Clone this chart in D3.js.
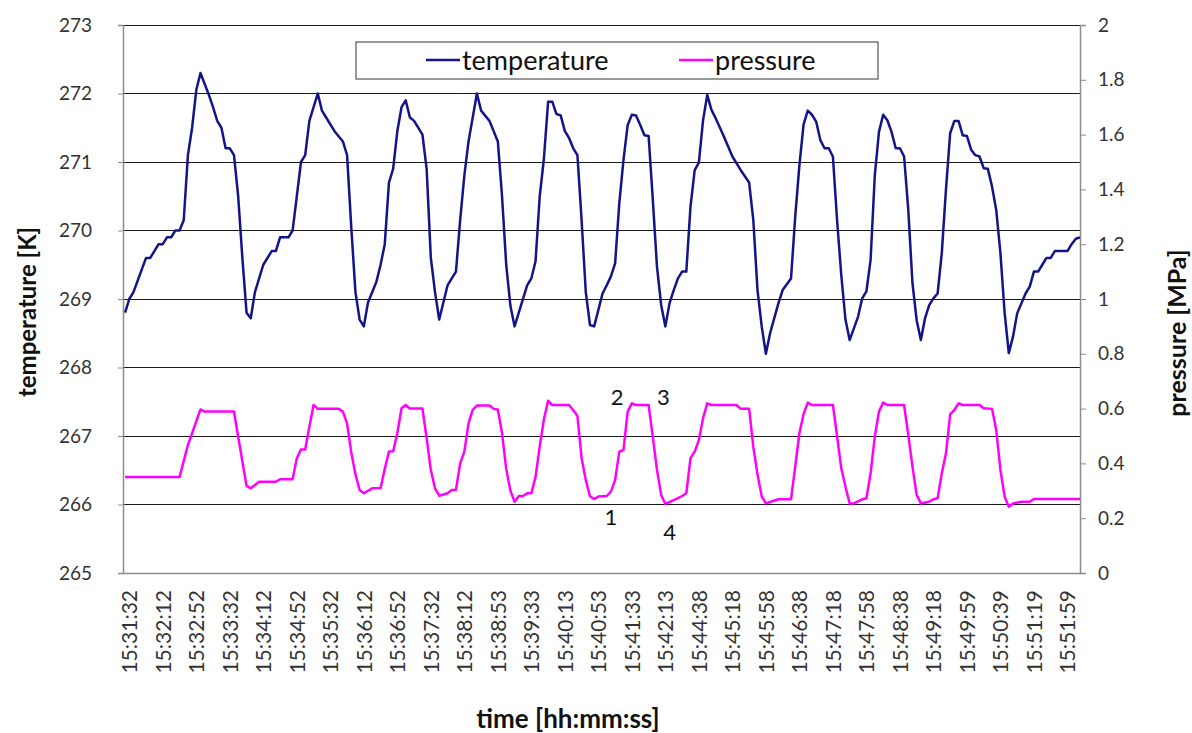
<!DOCTYPE html>
<html><head><meta charset="utf-8">
<script src="https://cdn.jsdelivr.net/npm/d3@7"></script>
<style>
html,body{margin:0;padding:0;background:#fff;}
svg{display:block;font-family:Lato,"Open Sans",sans-serif;}
</style></head>
<body><svg id="chart" width="1192" height="733"></svg>
<script>
// ---- data (sample index, value); samples every ~5 s ----
const tickLabels = ["15:31:32","15:32:12","15:32:52","15:33:32","15:34:12","15:34:52","15:35:32","15:36:12","15:36:52","15:37:32","15:38:12","15:38:53","15:39:33","15:40:13","15:40:53","15:41:33","15:42:13","15:44:38","15:45:18","15:45:58","15:46:38","15:47:18","15:47:58","15:48:38","15:49:18","15:49:59","15:50:39","15:51:19","15:51:59"];
const tempTicks = [265,266,267,268,269,270,271,272,273];
const pressTicks = [0,0.2,0.4,0.6,0.8,1,1.2,1.4,1.6,1.8,2];
const temperature = [[0,268.8],[1,269.0],[2,269.1],[5,269.6],[6,269.6],[8,269.8],[9,269.8],[10,269.9],[11,269.9],[12,270.0],[13,270.0],[14,270.15],[15,271.1],[16,271.5],[17,272.05],[18,272.3],[20,271.98],[21,271.8],[22,271.6],[23,271.5],[24,271.2],[25,271.2],[26,271.1],[27,270.5],[28,269.6],[29,268.8],[30,268.72],[31,269.1],[32,269.3],[33,269.5],[35,269.7],[36,269.7],[37,269.9],[39,269.9],[40,270.0],[42,271.0],[43,271.1],[44,271.6],[46,272.0],[47,271.75],[48,271.65],[50,271.45],[52,271.3],[53,271.1],[54,270.05],[55,269.1],[56,268.7],[57,268.6],[58,268.95],[60,269.25],[61,269.5],[62,269.8],[63,270.7],[64,270.9],[65,271.45],[66,271.8],[67,271.9],[68,271.65],[69,271.6],[71,271.4],[72,270.9],[73,269.6],[74,269.1],[75,268.7],[77,269.2],[78,269.3],[79,269.4],[80,270.15],[81,270.8],[82,271.3],[84,272.0],[85,271.75],[87,271.6],[89,271.3],[90,270.5],[91,269.5],[92,268.9],[93,268.6],[94,268.8],[96,269.2],[97,269.3],[98,269.55],[99,270.5],[100,271.05],[101,271.88],[102,271.88],[103,271.7],[104,271.68],[105,271.45],[106,271.35],[107,271.2],[108,271.1],[109,270.15],[110,269.1],[111,268.62],[112,268.6],[114,269.08],[115,269.2],[116,269.33],[117,269.52],[118,270.4],[119,271.03],[120,271.54],[121,271.69],[122,271.68],[123,271.54],[124,271.39],[125,271.38],[126,270.45],[127,269.47],[128,268.91],[129,268.6],[130,268.94],[131,269.13],[132,269.3],[133,269.4],[134,269.4],[135,270.35],[136,270.88],[137,270.99],[138,271.61],[139,271.98],[140,271.76],[141,271.64],[143,271.37],[145,271.08],[147,270.88],[149,270.7],[150,270.15],[151,269.13],[152,268.6],[153,268.2],[154,268.5],[156,268.94],[157,269.13],[159,269.3],[160,270.2],[161,270.95],[162,271.55],[163,271.75],[164,271.69],[165,271.59],[166,271.32],[167,271.2],[168,271.2],[169,271.08],[170,270.15],[171,269.35],[172,268.7],[173,268.4],[175,268.74],[176,269.01],[177,269.11],[178,269.57],[179,270.8],[180,271.44],[181,271.69],[182,271.61],[183,271.44],[184,271.2],[185,271.2],[186,271.08],[187,270.3],[188,269.23],[189,268.69],[190,268.4],[191,268.72],[192,268.91],[193,269.01],[194,269.08],[195,269.67],[196,270.6],[197,271.42],[198,271.6],[199,271.6],[200,271.39],[201,271.38],[202,271.18],[203,271.1],[204,271.08],[205,270.91],[206,270.9],[207,270.64],[208,270.3],[209,269.67],[210,268.8],[211,268.21],[212,268.45],[213,268.79],[215,269.08],[216,269.18],[217,269.4],[218,269.4],[219,269.5],[220,269.6],[221,269.6],[222,269.7],[225,269.7],[226,269.8],[227,269.88],[228,269.9]];
const pressure = [[0,0.35],[13,0.35],[15,0.467],[16,0.51],[18,0.597],[19,0.589],[26,0.589],[27,0.497],[29,0.318],[30,0.309],[32,0.333],[36,0.333],[37,0.342],[40,0.342],[41,0.419],[42,0.451],[43,0.451],[44,0.534],[45,0.613],[46,0.599],[51,0.599],[52,0.589],[53,0.546],[54,0.44],[55,0.36],[56,0.303],[57,0.291],[59,0.309],[61,0.31],[62,0.38],[63,0.443],[64,0.444],[65,0.51],[66,0.601],[67,0.613],[68,0.6],[71,0.6],[72,0.492],[73,0.376],[74,0.309],[75,0.282],[77,0.291],[78,0.303],[79,0.304],[80,0.4],[81,0.443],[82,0.546],[83,0.595],[84,0.611],[87,0.611],[88,0.599],[89,0.597],[90,0.51],[91,0.38],[92,0.3],[93,0.26],[94,0.281],[95,0.281],[96,0.291],[97,0.291],[98,0.351],[99,0.461],[100,0.56],[101,0.629],[102,0.613],[106,0.613],[107,0.595],[108,0.573],[109,0.419],[110,0.339],[111,0.28],[112,0.27],[113,0.279],[115,0.281],[116,0.297],[117,0.339],[118,0.443],[119,0.449],[120,0.589],[121,0.619],[122,0.613],[125,0.613],[126,0.497],[127,0.376],[128,0.285],[129,0.252],[131,0.266],[132,0.273],[133,0.281],[134,0.291],[135,0.419],[136,0.443],[137,0.485],[138,0.565],[139,0.619],[140,0.613],[146,0.613],[147,0.599],[149,0.599],[150,0.46],[151,0.36],[152,0.28],[153,0.254],[154,0.259],[156,0.269],[159,0.269],[160,0.388],[161,0.51],[162,0.58],[163,0.622],[164,0.613],[169,0.613],[170,0.5],[171,0.382],[172,0.315],[173,0.254],[174,0.254],[176,0.269],[177,0.273],[178,0.364],[179,0.497],[180,0.589],[181,0.622],[182,0.613],[186,0.613],[187,0.504],[188,0.388],[189,0.285],[190,0.254],[192,0.26],[193,0.269],[194,0.273],[195,0.364],[196,0.437],[197,0.579],[198,0.595],[199,0.619],[200,0.613],[204,0.613],[205,0.601],[207,0.599],[208,0.522],[209,0.376],[210,0.279],[211,0.242],[212,0.254],[214,0.26],[216,0.26],[217,0.27],[228,0.27]];
const annotations = [{label:"1", i:116, p:0.205},{label:"2", i:117.5, p:0.645},{label:"3", i:128.5, p:0.645},{label:"4", i:130, p:0.15}];

// ---- layout ----
const L = 123, R = 1080, T = 25, B = 573;
const svg = d3.select("#chart");
const x = d3.scaleLinear().domain([-0.5, 228]).range([L, R]);
const yT = d3.scaleLinear().domain([265, 273]).range([B, T]);
const yP = d3.scaleLinear().domain([0, 2]).range([B, T]);

// gridlines
svg.append("g").selectAll("line").data(tempTicks.slice(1)).join("line")
  .attr("x1", L).attr("x2", R).attr("y1", d => yT(d)).attr("y2", d => yT(d))
  .attr("stroke", "#1a1a1a").attr("stroke-width", 1).attr("shape-rendering","crispEdges");

// left axis
const axL = svg.append("g").attr("transform", `translate(${L},0)`)
  .call(d3.axisLeft(yT).tickValues(tempTicks).tickSize(5).tickPadding(26).tickFormat(d3.format("d")));
// right axis
const axR = svg.append("g").attr("transform", `translate(${R},0)`)
  .call(d3.axisRight(yP).tickValues(pressTicks).tickSize(6).tickPadding(12).tickFormat(d => d3.format("~g")(d)));
// bottom axis
const axB = svg.append("g").attr("transform", `translate(0,${B})`)
  .call(d3.axisBottom(x).tickValues(tickLabels.map((_, i) => i * 8)).tickSize(0).tickFormat((d) => tickLabels[d / 8]));
axB.selectAll("text").attr("text-anchor", "end").attr("dy", null)
  .attr("dominant-baseline", "central")
  .attr("transform", function(d){ return `translate(3,${17}) rotate(-90)`; }).attr("x", 0).attr("y", 0);

[axL, axR, axB].forEach(a => {
  a.select(".domain").attr("stroke", "#8c8c8c").attr("stroke-width", 1.5);
  a.selectAll(".tick line").attr("stroke", "#8c8c8c");
  a.selectAll("text").attr("fill", "#333").attr("font-family", "Lato, sans-serif");
});
axL.selectAll("text").attr("font-size", 19);
axR.selectAll("text").attr("font-size", 19);
axB.selectAll("text").attr("font-size", 21);

// lines
const lineT = d3.line().x(d => x(d[0])).y(d => yT(d[1]));
const lineP = d3.line().x(d => x(d[0])).y(d => yP(d[1]));
svg.append("path").datum(temperature).attr("d", lineT)
  .attr("fill", "none").attr("stroke", "#14148a").attr("stroke-width", 2.5).attr("stroke-linejoin","round");
svg.append("path").datum(pressure).attr("d", lineP)
  .attr("fill", "none").attr("stroke", "#ff00ff").attr("stroke-width", 2.5).attr("stroke-linejoin","round");

// annotations
svg.append("g").selectAll("text").data(annotations).join("text")
  .attr("x", d => x(d.i)).attr("y", d => yP(d.p)).attr("text-anchor", "middle")
  .attr("dominant-baseline", "central").attr("font-size", 22).attr("fill", "#111").text(d => d.label);

// legend
const lg = svg.append("g");
lg.append("rect").attr("x", 356).attr("y", 42).attr("width", 522).attr("height", 37)
  .attr("fill", "#fff").attr("stroke", "#555").attr("stroke-width", 1.2);
const legendItems = [{name:"temperature", color:"#14148a", x:426}, {name:"pressure", color:"#ff00ff", x:679}];
legendItems.forEach(it => {
  lg.append("line").attr("x1", it.x).attr("x2", it.x + 34).attr("y1", 60).attr("y2", 60)
    .attr("stroke", it.color).attr("stroke-width", 2.5);
  lg.append("text").attr("x", it.x + 36).attr("y", 59).attr("dominant-baseline", "central")
    .attr("font-size", 27).attr("fill", "#111").text(it.name);
});

// axis titles
svg.append("text").attr("transform", "translate(26,312) rotate(-90)").attr("text-anchor", "middle")
  .attr("dominant-baseline", "central").attr("font-weight", "bold").attr("font-size", 24).attr("fill", "#111").text("temperature [K]");
svg.append("text").attr("transform", "translate(1176,333) rotate(-90)").attr("text-anchor", "middle")
  .attr("dominant-baseline", "central").attr("font-weight", "bold").attr("font-size", 25).attr("fill", "#111").text("pressure [MPa]");
svg.append("text").attr("x", 568).attr("y", 718).attr("text-anchor", "middle")
  .attr("dominant-baseline", "central").attr("font-weight", "bold").attr("font-size", 26).attr("fill", "#111").text("time [hh:mm:ss]");
</script></body></html>
